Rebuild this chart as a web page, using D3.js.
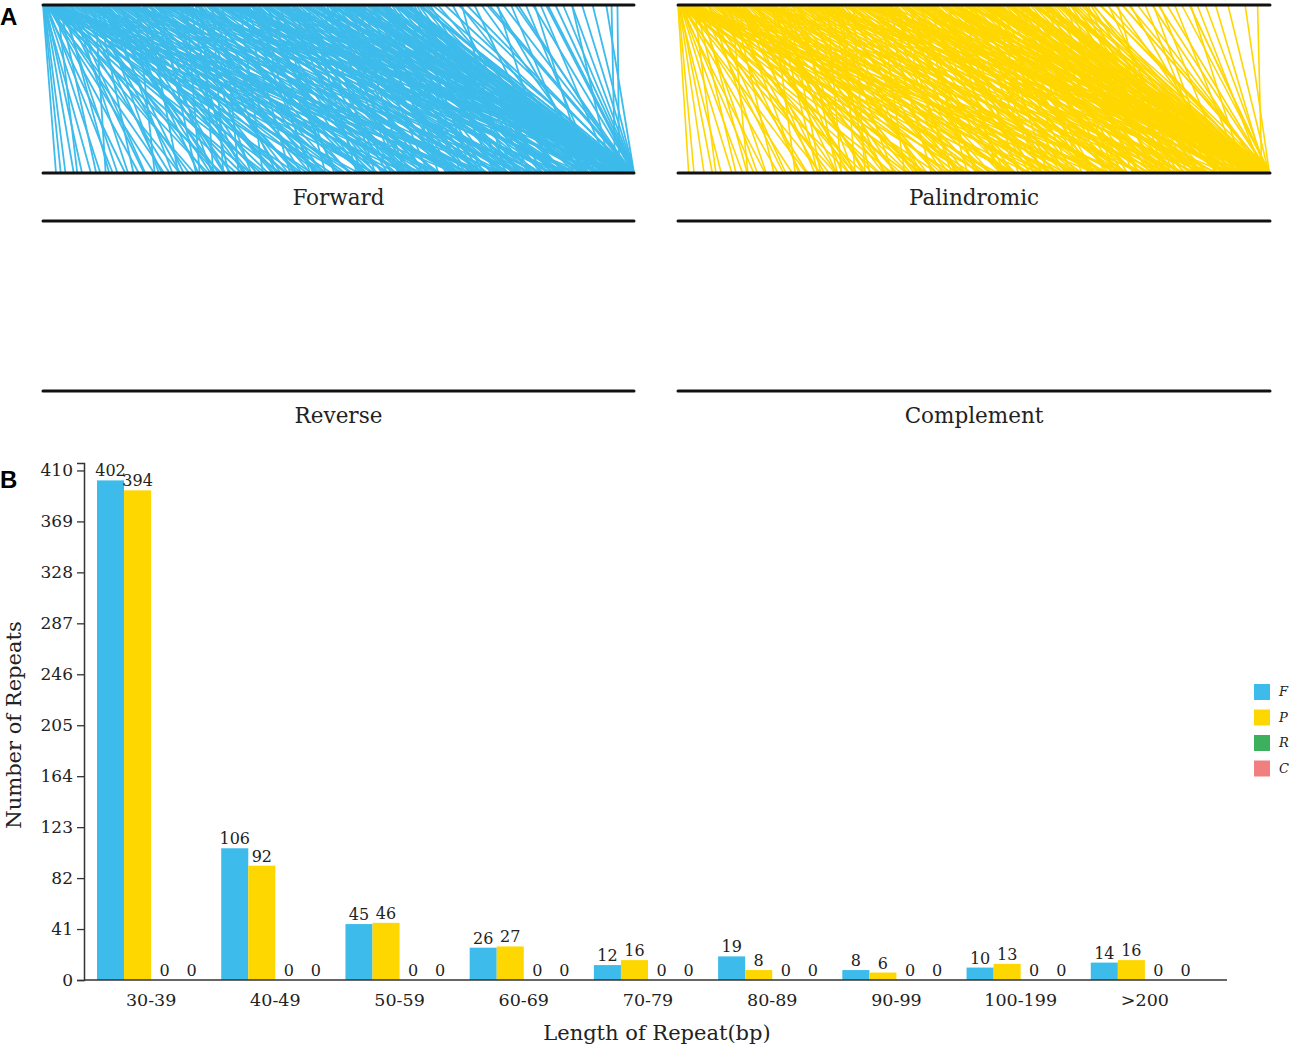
<!DOCTYPE html>
<html>
<head>
<meta charset="utf-8">
<script src="https://cdn.jsdelivr.net/npm/d3@7"></script>
<style>
  body { margin: 0; background: #fff; }
  svg { display: block; }
  text { font-family: "DejaVu Serif", serif; fill: #222; }
</style>
</head>
<body>
<div id="chart"></div>
<script>
// ---- data ----
const categories = ["30-39", "40-49", "50-59", "60-69", "70-79", "80-89", "90-99", "100-199", ">200"];
const forwardCounts = [402, 106, 45, 26, 12, 19, 8, 10, 14];
const palindromicCounts = [394, 92, 46, 27, 16, 8, 6, 13, 16];
const reverseCounts = [0, 0, 0, 0, 0, 0, 0, 0, 0];
const complementCounts = [0, 0, 0, 0, 0, 0, 0, 0, 0];
const yTicks = [0, 41, 82, 123, 164, 205, 246, 287, 328, 369, 410];
const seriesKeys = ["F", "P", "R", "C"];
const seriesColors = ["#3dbbeb", "#ffd700", "#3cb05c", "#f08080"];

// repeat pairs, position of first copy (top) and second copy (bottom), per mille of genome
const forwardPairs = [
  [0,22],[1,30],[2,38],[3,52],[4,66],[2,81],[5,97],[6,118],[3,139],[8,162],[7,188],[9,205],[4,231],[10,256],[12,279],[6,302],[11,327],[13,351],[5,376],[14,402],[8,428],[15,455],[10,481],[16,507],[12,534],[18,560],[3,588],[20,615],[9,642],[17,668],[22,697],[14,725],[25,753],[19,781],
  [24,58],[28,90],[31,126],[34,171],[38,214],[41,247],[44,292],[47,336],[51,369],[54,411],[58,447],[61,488],[64,523],[68,561],[71,598],[74,634],[78,672],[81,708],[85,744],[88,106],[92,153],[95,196],[99,238],[102,283],[106,318],[109,362],[113,397],[116,436],[120,472],[123,511],[127,549],[130,585],[134,622],[137,659],[141,697],[144,735],[148,772],[151,808],[155,845],[158,189],[46,173],[63,274],[87,381],[111,219],[129,306],
  [162,343],[167,391],[171,428],[176,466],[180,503],[185,544],[189,582],[194,617],[198,655],[203,694],[207,731],[212,769],[216,806],[221,842],[225,879],[230,915],[234,951],[239,982],[243,265],[248,314],[252,352],[257,395],[261,437],[266,474],[270,518],[275,556],[279,597],[284,633],[288,671],[293,712],[297,748],[302,787],[306,826],[311,862],[315,899],[320,938],[324,973],[329,995],[333,372],[338,418],[342,457],[347,498],[174,229],[183,286],[196,259],[209,338],[227,402],[246,461],[263,547],[281,620],[299,706],[318,811],[336,887],[268,288],[287,305],[304,331],
  [352,536],[356,574],[360,613],[364,651],[369,689],[373,727],[377,766],[381,804],[386,842],[390,881],[394,919],[398,956],[403,988],[407,999],[411,541],[415,583],[420,624],[424,662],[428,702],[432,741],[437,779],[441,818],[445,857],[449,896],[454,934],[458,971],[462,996],[466,1000],[471,562],[475,601],[479,643],[483,683],[488,722],[492,759],[496,797],[500,836],[505,874],[509,913],[513,950],[517,984],[522,998],[526,612],[530,652],[534,691],[539,731],[543,770],[547,808],[551,846],[556,887],[560,925],[564,963],[568,991],[573,1000],[577,669],[581,708],[585,746],[590,786],[594,824],[598,862],[602,901],[607,939],[611,977],[615,997],[619,1000],[624,726],[628,765],[632,803],[636,842],[641,881],[645,919],[649,958],
  [358,452],[379,493],[401,478],[426,589],[447,531],[468,717],[489,604],[511,689],[532,853],[553,741],[574,795],[596,948],[617,862],[638,985],[372,640],[395,765],[418,895],[440,999],[463,812],[485,940],[507,1000],[529,924],[550,996],[572,908],[593,999],[614,933],[635,1000],
  [655,826],[668,913],[680,987],[693,845],[705,931],[717,995],[730,866],[742,948],[755,1000],[767,932],[779,998],[792,912],[804,990],[817,935],[829,999],[842,962],[854,1000],[867,1000],[880,1000],[895,1000],[912,1000],[930,1000],[953,1000],[962,968],[972,975],[709,782],[769,858],[832,921],[895,962],
  [302,1000],[318,998],[345,1000],[367,999],[392,1000],[416,997],[437,1000],[459,999],[483,1000],[504,998],[527,1000],[548,999],[571,997],[592,1000],[613,998],[637,999],[659,1000],[703,1000],[751,998],[799,997],[851,998],
  [83,412],[97,466],[119,503],[138,557],[152,611],[173,648],[188,702],[201,738],[218,781],[236,823],[254,871],[272,905],[291,944],[309,979],[327,998],[344,562],[362,604],[383,651],[404,699],[422,743],[443,786],[461,829],[480,874],[499,917],[518,959],[537,992],[556,1000],[575,952],[597,981],[616,968],
  [105,291],[126,341],[147,388],[169,431],[191,477],[213,521],[236,566],[258,611],[281,655],[303,699],[326,744],[348,788],[371,832],[393,877],[416,921],[438,966],[461,990],[483,996],[506,979],[528,957],[551,934],[573,975],[595,1000],
  [128,263],[149,308],[172,361],[195,415],[217,452],[241,499],[263,539],[286,579],[309,624],[331,667],[354,713],[377,752],[399,797],[421,841],[444,883],[467,926],[489,969],[512,994],[534,1000],[557,971],[579,1000],[601,995],[35,112],[49,144],[66,201],[76,232],[93,297],[108,352]
];

const palindromicPairs = [
  [0,18],[1,27],[2,44],[3,58],[1,73],[4,91],[5,109],[6,128],[2,147],[7,169],[8,193],[3,217],[9,241],[10,266],[5,289],[11,314],[12,338],[6,362],[13,387],[14,413],[7,438],[15,463],[16,489],[9,514],[17,540],[18,566],[4,593],[20,621],[11,648],[21,676],[23,704],[13,731],[26,760],
  [27,64],[30,98],[33,134],[37,178],[40,219],[43,255],[47,298],[50,341],[53,377],[57,418],[60,455],[63,496],[67,532],[70,569],[73,607],[77,643],[80,681],[83,717],[87,755],[90,118],[94,162],[97,204],[101,247],[104,289],[108,327],[111,370],[115,406],[118,445],[122,482],[125,520],[129,558],[132,594],[136,632],[139,670],[143,707],[146,745],[150,783],[153,819],[157,857],[160,198],[164,236],[167,277],[52,182],[69,268],[92,389],[114,231],[133,318],[156,404],
  [171,351],[176,399],[180,437],[185,476],[189,514],[194,553],[198,591],[203,627],[207,665],[212,703],[216,741],[221,779],[225,816],[230,853],[234,890],[239,927],[243,962],[248,989],[252,276],[257,324],[261,363],[266,405],[270,447],[275,485],[279,528],[284,566],[288,606],[293,643],[297,682],[302,722],[306,759],[311,797],[315,836],[320,873],[324,910],[329,948],[333,982],[338,999],[342,383],[347,428],[351,468],[356,509],[184,241],[193,296],[206,269],[219,348],[237,412],[255,473],[272,558],[290,632],[308,718],[327,823],[345,898],[277,299],[296,316],
  [361,547],[365,585],[369,624],[374,662],[378,701],[382,739],[386,777],[391,815],[395,854],[399,892],[403,930],[408,967],[412,993],[416,1000],[420,552],[425,594],[429,635],[433,674],[437,713],[442,752],[446,790],[450,829],[454,868],[459,906],[463,945],[467,980],[471,998],[476,575],[480,614],[484,654],[488,694],[493,733],[497,771],[501,809],[505,848],[510,886],[514,925],[518,962],[522,991],[527,1000],[531,624],[535,664],[539,703],[544,742],[548,781],[552,819],[556,858],[561,897],[565,936],[569,973],[573,996],[578,682],[582,721],[586,759],[590,798],[595,836],[599,875],[603,913],[607,951],[612,986],[616,1000],[620,739],[624,778],[629,816],[633,855],[637,893],[641,932],[646,970],[650,995],[654,768],[658,807],[663,846],[667,884],[671,923],[675,961],[680,990],[684,1000],[688,801],[692,839],[697,878],
  [367,462],[388,503],[410,489],[435,601],[456,541],[478,728],[499,615],[521,699],[543,864],[564,752],[585,806],[607,959],[628,874],[649,990],[381,651],[404,777],[427,907],[449,999],[472,823],[494,952],[516,1000],[538,936],[559,998],[581,919],[602,1000],[623,944],[644,999],[665,912],[686,963],
  [702,917],[714,989],[727,861],[739,944],[751,998],[764,925],[776,995],[789,907],[801,985],[814,929],[826,997],[839,953],[851,1000],[864,999],[877,988],[891,996],[908,992],[929,998],[958,999],[979,986],[743,818],[803,907],[866,957],
  [311,1000],[329,998],[352,1000],[374,999],[398,1000],[421,997],[444,1000],[466,999],[489,1000],[511,998],[534,1000],[556,999],[579,997],[601,1000],[622,998],[645,999],[667,1000],[712,1000],[761,998],[811,997],[864,998],
  [86,419],[100,471],[121,509],[140,563],[155,617],[176,653],[191,708],[204,743],[221,787],[239,829],[257,876],[275,911],[294,949],[312,983],[330,999],[348,568],[366,609],[387,657],[407,705],[426,748],[446,792],[465,835],[484,879],[503,922],[522,964],[541,994],[560,1000],[579,957],[601,984],[620,973],[640,989],[661,996],
  [108,296],[129,347],[150,393],[172,437],[194,482],[216,526],[239,571],[261,617],[284,661],[306,705],[329,749],[351,794],[374,838],[396,882],[419,927],[441,971],[464,993],[486,998],[509,983],[531,961],[554,939],[576,979],[598,1000],
  [131,268],[152,314],[175,367],[198,421],[220,458],[244,505],[266,545],[289,585],[312,629],[334,673],[357,719],[380,758],[402,803],[424,847],[447,889],[470,932],[492,974],[515,996],[537,1000],[560,976],[582,1000],[604,997],[38,117],[52,149],[69,207],[79,238],[96,302],[111,357],[700,960],[725,985],[750,1000]
];
const reversePairs = [];
const complementPairs = [];

// ---- layout ----
const width = 1293, height = 1048;

const svg = d3.select("#chart")
    .append("svg")
    .attr("width", width)
    .attr("height", height);

// panel letters
svg.append("text").attr("x", 0).attr("y", 25)
    .style("font-family", "'Liberation Sans', Arial, sans-serif")
    .style("font-weight", "bold").style("font-size", "24px").style("fill", "#000")
    .text("A");
svg.append("text").attr("x", 0).attr("y", 488)
    .style("font-family", "'Liberation Sans', Arial, sans-serif")
    .style("font-weight", "bold").style("font-size", "24px").style("fill", "#000")
    .text("B");

// ---- panel A: repeat link plots ----
const panels = [
    { name: "Forward", pairs: forwardPairs, color: seriesColors[0], x0: 43, x1: 634, top: 5, bottom: 173, sw: 1.8 },
    { name: "Palindromic", pairs: palindromicPairs, color: seriesColors[1], x0: 678, x1: 1270, top: 5, bottom: 173, sw: 1.6 },
    { name: "Reverse", pairs: reversePairs, color: seriesColors[2], x0: 43, x1: 634, top: 221, bottom: 391, sw: 1.6 },
    { name: "Complement", pairs: complementPairs, color: seriesColors[3], x0: 678, x1: 1270, top: 221, bottom: 391, sw: 1.6 }
];

panels.forEach(p => {
    const pos = d3.scaleLinear().domain([0, 1000]).range([p.x0, p.x1]);
    const g = svg.append("g");

    g.selectAll("line.link")
        .data(p.pairs)
        .enter()
        .append("line")
        .attr("class", "link")
        .attr("x1", d => pos(d[0]))
        .attr("y1", p.top)
        .attr("x2", d => pos(d[1]))
        .attr("y2", p.bottom)
        .attr("stroke", p.color)
        .attr("stroke-width", p.sw);

    // chromosome bars
    [p.top, p.bottom].forEach(y => {
        g.append("line")
            .attr("x1", p.x0).attr("x2", p.x1)
            .attr("y1", y).attr("y2", y)
            .attr("stroke", "#111")
            .attr("stroke-width", 3)
            .attr("stroke-linecap", "round");
    });

    g.append("text")
        .attr("x", (p.x0 + p.x1) / 2)
        .attr("y", p.bottom + 32)
        .attr("text-anchor", "middle")
        .style("font-size", "21.5px")
        .text(p.name);
});

// ---- panel B: bar chart ----
const axisX = 84, axisRight = 1227, baseY = 980;

const x0 = d3.scaleBand().domain(categories).range([89, 1207]);
const x1 = d3.scaleBand().domain(seriesKeys).range([8, x0.bandwidth() - 8]);
const y = d3.scaleLinear().domain([0, 416]).range([baseY, 463]);

const seriesValues = [forwardCounts, palindromicCounts, reverseCounts, complementCounts];
const barData = [];
categories.forEach((c, i) => {
    seriesKeys.forEach((k, j) => {
        barData.push({ cat: c, key: k, value: seriesValues[j][i], color: seriesColors[j] });
    });
});

const chart = svg.append("g");

chart.selectAll("rect.bar")
    .data(barData)
    .enter()
    .append("rect")
    .attr("class", "bar")
    .attr("x", d => x0(d.cat) + x1(d.key))
    .attr("y", d => y(d.value))
    .attr("width", x1.bandwidth())
    .attr("height", d => baseY - y(d.value))
    .attr("fill", d => d.color);

chart.selectAll("text.val")
    .data(barData)
    .enter()
    .append("text")
    .attr("class", "val")
    .attr("x", d => x0(d.cat) + x1(d.key) + x1.bandwidth() / 2)
    .attr("y", d => y(d.value) - 4)
    .attr("text-anchor", "middle")
    .style("font-size", "16px")
    .text(d => d.value);

// y axis
const yAxis = d3.axisLeft(y).tickValues(yTicks).tickSize(7).tickPadding(4);
const yg = chart.append("g")
    .attr("transform", `translate(${axisX},0)`)
    .call(yAxis);
yg.selectAll("text").style("font-family", "'DejaVu Serif', serif").style("font-size", "17px").style("fill", "#222");
yg.selectAll("line").attr("stroke", "#333").attr("stroke-width", 1.3);
yg.select(".domain").attr("stroke", "#333").attr("stroke-width", 1.5);

// x axis
const xAxis = d3.axisBottom(x0).tickSize(0).tickPadding(14);
const xg = chart.append("g")
    .attr("transform", `translate(0,${baseY})`)
    .call(xAxis);
xg.select(".domain").remove();
xg.selectAll("text").style("font-family", "'DejaVu Serif', serif").style("font-size", "17.5px").style("fill", "#222");
chart.append("line")
    .attr("x1", axisX).attr("x2", axisRight)
    .attr("y1", baseY).attr("y2", baseY)
    .attr("stroke", "#333").attr("stroke-width", 1.5);

// axis titles
chart.append("text")
    .attr("x", 657).attr("y", 1040)
    .attr("text-anchor", "middle")
    .style("font-size", "21px")
    .text("Length of Repeat(bp)");
chart.append("text")
    .attr("transform", "translate(21,725) rotate(-90)")
    .attr("text-anchor", "middle")
    .style("font-size", "21px")
    .text("Number of Repeats");

// legend
const legend = chart.append("g").attr("transform", "translate(1254,684)");
seriesKeys.forEach((k, i) => {
    legend.append("rect")
        .attr("x", 0).attr("y", i * 25.5)
        .attr("width", 16).attr("height", 16)
        .attr("fill", seriesColors[i]);
    legend.append("text")
        .attr("x", 25).attr("y", i * 25.5 + 12)
        .style("font-size", "13px")
        .style("font-style", "italic")
        .text(k);
});
</script>
</body>
</html>
